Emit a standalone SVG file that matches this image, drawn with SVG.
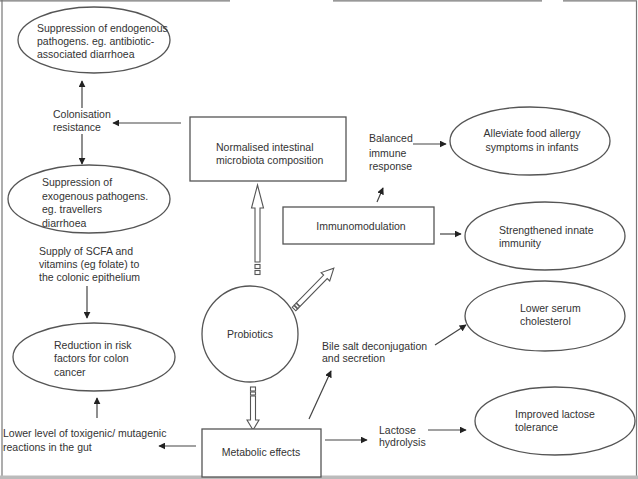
<svg xmlns="http://www.w3.org/2000/svg" width="638" height="479" viewBox="0 0 638 479">
<defs>
<style>
text{font-family:"Liberation Sans",Arial,sans-serif;font-size:10.5px;fill:#333}
.c{text-anchor:middle}
.n{fill:#fff;stroke:#555;stroke-width:1.3}
.e{fill:none;stroke:#444;stroke-width:1.2}
.h{fill:#fff;stroke:#555;stroke-width:1.1}
.f{fill:none;stroke:#777;stroke-width:1.2}
</style>
<marker id="ah" viewBox="0 0 10 10" refX="9" refY="5" markerWidth="7" markerHeight="7" markerUnits="userSpaceOnUse" orient="auto">
<path d="M0,0 L10,5 L0,10 z" fill="#222"/>
</marker>
</defs>
<rect width="638" height="479" fill="#fff"/>
<g id="frame">
<path class="f" d="M0,0.8 H230 M333,0.8 H542 M563,0.8 H636.5 V476 M2,0 V476"/>
<rect x="0" y="475.5" width="638" height="3.5" fill="#bbb"/>
</g>
<g id="connectors">
<line class="e" x1="82" y1="108" x2="82" y2="81" marker-end="url(#ah)"/>
<line class="e" x1="82" y1="134" x2="82" y2="164" marker-end="url(#ah)"/>
<line class="e" x1="181" y1="123" x2="113" y2="123" marker-end="url(#ah)"/>
<line class="e" x1="87" y1="286" x2="87" y2="318" marker-end="url(#ah)"/>
<line class="e" x1="97" y1="418" x2="97" y2="398" marker-end="url(#ah)"/>
<line class="e" x1="196" y1="446" x2="159" y2="446" marker-end="url(#ah)"/>
<line class="e" x1="377" y1="202" x2="383" y2="188" marker-end="url(#ah)"/>
<line class="e" x1="413" y1="144" x2="446" y2="144" marker-end="url(#ah)"/>
<line class="e" x1="440" y1="234" x2="461" y2="234" marker-end="url(#ah)"/>
<line class="e" x1="435" y1="345" x2="466" y2="325" marker-end="url(#ah)"/>
<line class="e" x1="309" y1="419" x2="331" y2="371" marker-end="url(#ah)"/>
<line class="e" x1="325" y1="440" x2="367" y2="440" marker-end="url(#ah)"/>
<line class="e" x1="428" y1="430" x2="466" y2="430" marker-end="url(#ah)"/>
<path class="h" d="M255,262 V208 H251.5 L257.5,185 L263.5,208 H260 V262 Z"/>
<rect class="h" x="255" y="264.5" width="5" height="4"/>
<rect class="h" x="255" y="270.5" width="5" height="4"/>
<path class="h" d="M250.5,396 V420 H247 L253,430 L259,420 H255.5 V396 Z"/>
<rect class="h" x="250.5" y="387" width="5" height="4"/>
<rect class="h" x="250.5" y="392" width="5" height="3"/>
<g transform="translate(294,309) rotate(-45.7)">
<path class="h" d="M6,-2.5 H45 V-6 L57,0 L45,6 V2.5 H6 Z"/>
<rect class="h" x="0" y="-2.5" width="2.5" height="5"/>
<rect class="h" x="3" y="-2.5" width="2.5" height="5"/>
</g>
</g>
<g id="endogenous">
<ellipse class="n" cx="94" cy="40" rx="76" ry="33"/>
<text x="37" y="32">Suppression of endogenous</text>
<text x="37" y="45">pathogens. eg. antibiotic-</text>
<text x="37" y="58">associated diarrhoea</text>
</g>
<g id="colonisation">
<text x="53" y="118">Colonisation</text>
<text x="53" y="131">resistance</text>
</g>
<g id="normalised">
<rect class="n" x="190" y="117" width="156" height="64"/>
<text x="216" y="151">Normalised intestinal</text>
<text x="216" y="164">microbiota composition</text>
</g>
<g id="exogenous">
<ellipse class="n" cx="89" cy="199" rx="81" ry="34"/>
<text x="42" y="186">Suppression of</text>
<text x="42" y="199.5">exogenous pathogens.</text>
<text x="42" y="213">eg. travellers</text>
<text x="42" y="226.5">diarrhoea</text>
</g>
<g id="scfa">
<text x="39" y="254.5">Supply of SCFA and</text>
<text x="39" y="267.5">vitamins (eg folate) to</text>
<text x="39" y="280.5">the colonic epithelium</text>
</g>
<g id="colon">
<ellipse class="n" cx="94" cy="357" rx="81" ry="34"/>
<text x="54" y="349">Reduction in risk</text>
<text x="54" y="362">factors for colon</text>
<text x="54" y="375.5">cancer</text>
</g>
<g id="lowerlevel">
<text x="3" y="437">Lower level of toxigenic/ mutagenic</text>
<text x="3" y="451">reactions in the gut</text>
</g>
<g id="probiotics">
<circle class="n" cx="250" cy="334" r="48"/>
<text class="c" x="250" y="338">Probiotics</text>
</g>
<g id="metabolic">
<rect class="n" x="202" y="429" width="119" height="48"/>
<text class="c" x="261" y="456">Metabolic effects</text>
</g>
<g id="immunomodulation">
<rect class="n" x="283" y="207" width="151" height="37"/>
<text class="c" x="361" y="229.5">Immunomodulation</text>
</g>
<g id="balanced">
<text x="369" y="142">Balanced</text>
<text x="369" y="156.5">immune</text>
<text x="369" y="169.5">response</text>
</g>
<g id="alleviate">
<ellipse class="n" cx="530" cy="141" rx="80" ry="34"/>
<text class="c" x="532" y="137">Alleviate food allergy</text>
<text class="c" x="532" y="150.5">symptoms in infants</text>
</g>
<g id="strengthened">
<ellipse class="n" cx="545" cy="236" rx="80" ry="34"/>
<text x="499" y="233.5">Strengthened innate</text>
<text x="499" y="246.5">immunity</text>
</g>
<g id="serum">
<ellipse class="n" cx="545" cy="316" rx="80" ry="35"/>
<text x="520" y="311.5">Lower serum</text>
<text x="520" y="324.5">cholesterol</text>
</g>
<g id="bile">
<text x="322" y="349.5">Bile salt deconjugation</text>
<text x="322" y="362">and secretion</text>
</g>
<g id="lactose">
<text x="379" y="433.5">Lactose</text>
<text x="379" y="446">hydrolysis</text>
</g>
<g id="improved">
<ellipse class="n" cx="555" cy="421" rx="80" ry="34"/>
<text x="515" y="417.5">Improved lactose</text>
<text x="515" y="431">tolerance</text>
</g>
</svg>
